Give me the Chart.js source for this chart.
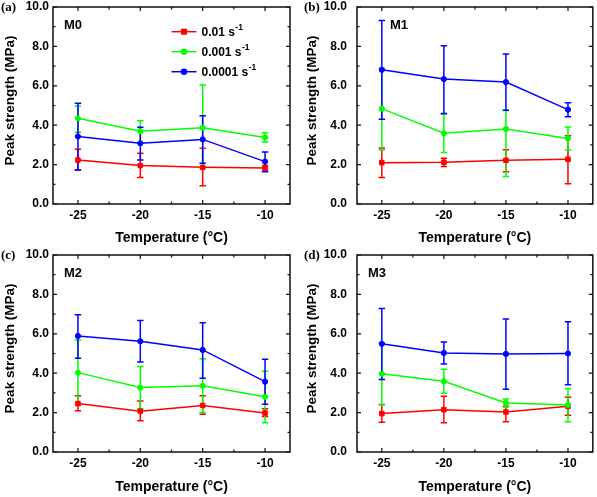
<!DOCTYPE html>
<html><head><meta charset="utf-8">
<script src="https://cdn.jsdelivr.net/npm/chart.js@4.4.0/dist/chart.umd.min.js"></script>
<style>
html,body{margin:0;padding:0;background:#fff;}
#wrap{position:relative;width:597px;height:497px;overflow:hidden;background:#fff;}
canvas{position:absolute;}
</style></head><body>
<div id="wrap">
<canvas id="ca" width="298" height="248" style="left:0px;top:0px"></canvas>
<canvas id="cb" width="299" height="248" style="left:298px;top:0px"></canvas>
<canvas id="cc" width="298" height="249" style="left:0px;top:248px"></canvas>
<canvas id="cd" width="299" height="249" style="left:298px;top:248px"></canvas>
</div>
<script>
// ---------- data ----------
const temperatures = [-25, -20, -15, -10];
const xTickValues = [-25, -20, -15, -10];
const yTickValues = [0, 2, 4, 6, 8, 10];
const seriesNames = ['0.01 s', '0.001 s', '0.0001 s'];
const seriesSup = '-1';
const panelLabels = ['(a)', '(b)', '(c)', '(d)'];
const mixLabels = ['M0', 'M1', 'M2', 'M3'];
const xTitle = 'Temperature (°C)';
const yTitle = 'Peak strength (MPa)';

// M0
const m0_red = [2.23, 1.95, 1.86, 1.83];
const m0_red_hi = [2.78, 2.57, 2.83, 1.95];
const m0_red_lo = [1.73, 1.34, 0.93, 1.68];
const m0_green = [4.35, 3.69, 3.87, 3.38];
const m0_green_hi = [4.97, 4.23, 6.04, 3.62];
const m0_green_lo = [3.64, 3.10, 1.81, 3.15];
const m0_blue = [3.43, 3.08, 3.28, 2.15];
const m0_blue_hi = [5.11, 3.89, 4.48, 2.64];
const m0_blue_lo = [1.73, 2.23, 2.07, 1.64];
// M1
const m1_red = [2.10, 2.12, 2.22, 2.27];
const m1_red_hi = [2.84, 2.32, 2.76, 3.47];
const m1_red_lo = [1.34, 1.90, 1.64, 1.03];
const m1_green = [4.84, 3.59, 3.81, 3.33];
const m1_green_hi = [6.90, 4.56, 4.74, 3.91];
const m1_green_lo = [2.74, 2.62, 1.39, 2.74];
const m1_blue = [6.81, 6.34, 6.19, 4.79];
const m1_blue_hi = [9.32, 8.03, 7.61, 5.14];
const m1_blue_lo = [4.30, 4.60, 4.76, 4.43];
// M2
const m2_red = [2.46, 2.07, 2.36, 1.98];
const m2_red_hi = [2.85, 2.59, 2.85, 2.19];
const m2_red_lo = [2.10, 1.58, 1.92, 1.80];
const m2_green = [4.03, 3.27, 3.36, 2.80];
const m2_green_hi = [5.69, 4.34, 4.73, 4.10];
const m2_green_lo = [2.37, 2.19, 2.00, 1.49];
const m2_blue = [5.89, 5.62, 5.18, 3.57];
const m2_blue_hi = [6.97, 6.67, 6.56, 4.71];
const m2_blue_lo = [4.76, 4.57, 3.74, 2.42];
// M3
const m3_red = [1.95, 2.15, 2.03, 2.32];
const m3_red_hi = [2.41, 2.83, 2.32, 2.78];
const m3_red_lo = [1.51, 1.49, 1.53, 1.86];
const m3_green = [3.97, 3.59, 2.49, 2.39];
const m3_green_hi = [5.54, 4.20, 2.69, 3.22];
const m3_green_lo = [2.40, 2.98, 2.29, 1.53];
const m3_blue = [5.49, 5.03, 4.98, 5.00];
const m3_blue_hi = [7.29, 5.59, 6.75, 6.61];
const m3_blue_lo = [3.68, 4.47, 3.19, 3.41];

// ---------- styles ----------
const COLORS = ['#ff0000', '#00ff00', '#0000ff'];
const SHAPES = ['rect', 'circle', 'circle'];
const SANS = '"Liberation Sans", Arial, Helvetica, sans-serif';
const SERIF = '"Liberation Serif", "Times New Roman", serif';

Chart.defaults.font.family = SANS;
Chart.defaults.font.weight = 'bold';
Chart.defaults.color = '#000';

const panels = [
  { id: 'ca', label: panelLabels[0], mix: mixLabels[0], legend: true,
    series: [[m0_red, m0_red_hi, m0_red_lo], [m0_green, m0_green_hi, m0_green_lo], [m0_blue, m0_blue_hi, m0_blue_lo]],
    yW: 53, yPad: 4, yTitleX: 10, padR: 8, xH: 44, labelX: 1, mixDX: 11 },
  { id: 'cb', label: panelLabels[1], mix: mixLabels[1], legend: false,
    series: [[m1_red, m1_red_hi, m1_red_lo], [m1_green, m1_green_hi, m1_green_lo], [m1_blue, m1_blue_hi, m1_blue_lo]],
    yW: 59, yPad: 10, yTitleX: 14, padR: 3, xH: 44, labelX: 6, mixDX: 33 },
  { id: 'cc', label: panelLabels[2], mix: mixLabels[2], legend: false,
    series: [[m2_red, m2_red_hi, m2_red_lo], [m2_green, m2_green_hi, m2_green_lo], [m2_blue, m2_blue_hi, m2_blue_lo]],
    yW: 53, yPad: 4, yTitleX: 10, padR: 8, xH: 45, labelX: 1, mixDX: 11 },
  { id: 'cd', label: panelLabels[3], mix: mixLabels[3], legend: false,
    series: [[m3_red, m3_red_hi, m3_red_lo], [m3_green, m3_green_hi, m3_green_lo], [m3_blue, m3_blue_hi, m3_blue_lo]],
    yW: 59, yPad: 10, yTitleX: 14, padR: 3, xH: 45, labelX: 6, mixDX: 11 }
];

function mids(arr) {
  const out = [];
  for (let i = 0; i < arr.length - 1; i++) out.push((arr[i] + arr[i + 1]) / 2);
  return out;
}

function drawMarker(ctx, shape, x, y, color) {
  ctx.fillStyle = color;
  if (shape === 'rect') {
    ctx.fillRect(x - 3, y - 3, 6, 6);
  } else {
    ctx.beginPath(); ctx.arc(x, y, 3.2, 0, Math.PI * 2); ctx.fill();
  }
}

function makeChart(p) {
  const datasets = p.series.map((s, i) => ({
    label: seriesNames[i] + ' ' + seriesSup,
    data: temperatures.map((t, k) => ({ x: t, y: s[0][k] })),
    borderColor: COLORS[i],
    backgroundColor: COLORS[i],
    borderWidth: 1.5,
    pointStyle: SHAPES[i],
    pointRadius: i === 0 ? 3.2 : 2.6,
    pointBorderWidth: 1,
    pointHoverRadius: 3,
    tension: 0,
    order: 3 - i
  }));

  const errPlugin = {
    id: 'errbars',
    beforeDatasetsDraw(chart) {
      const ctx = chart.ctx, xs = chart.scales.x, ys = chart.scales.y;
      ctx.save();
      ctx.lineWidth = 1.5;
      p.series.forEach((s, i) => {
        ctx.strokeStyle = COLORS[i];
        temperatures.forEach((t, k) => {
          const x = xs.getPixelForValue(t);
          const yh = ys.getPixelForValue(s[1][k]);
          const yl = ys.getPixelForValue(s[2][k]);
          ctx.beginPath();
          ctx.moveTo(x, yh); ctx.lineTo(x, yl);
          ctx.moveTo(x - 3.2, yh); ctx.lineTo(x + 3.2, yh);
          ctx.moveTo(x - 3.2, yl); ctx.lineTo(x + 3.2, yl);
          ctx.stroke();
        });
      });
      ctx.restore();
    }
  };

  const framePlugin = {
    id: 'frame',
    afterDraw(chart) {
      const ctx = chart.ctx, a = chart.chartArea, xs = chart.scales.x, ys = chart.scales.y;
      ctx.save();
      ctx.strokeStyle = '#111';
      ctx.lineWidth = 1.5;
      ctx.strokeRect(a.left, a.top, a.right - a.left, a.bottom - a.top);
      ctx.lineWidth = 1.2;
      ctx.beginPath();
      const tickX = (v, len) => {
        const x = xs.getPixelForValue(v);
        ctx.moveTo(x, a.bottom); ctx.lineTo(x, a.bottom - len);
        ctx.moveTo(x, a.top); ctx.lineTo(x, a.top + len);
      };
      const tickY = (v, len) => {
        const y = ys.getPixelForValue(v);
        ctx.moveTo(a.left, y); ctx.lineTo(a.left + len, y);
        ctx.moveTo(a.right, y); ctx.lineTo(a.right - len, y);
      };
      xTickValues.forEach(v => tickX(v, 4));
      mids(xTickValues).forEach(v => tickX(v, 2.5));
      yTickValues.forEach(v => tickY(v, 4));
      mids(yTickValues).forEach(v => tickY(v, 2.5));
      ctx.stroke();

      // panel label
      ctx.fillStyle = '#000';
      ctx.textBaseline = 'middle';
      ctx.textAlign = 'left';
      ctx.font = 'bold 13px ' + SERIF;
      ctx.fillText(p.label, p.labelX, 8);
      // mix label
      ctx.font = 'bold 13px ' + SANS;
      ctx.fillText(p.mix, a.left + p.mixDX, a.top + 18);
      // y title
      ctx.save();
      ctx.translate(p.yTitleX, (a.top + a.bottom) / 2 - 5);
      ctx.rotate(-Math.PI / 2);
      ctx.textAlign = 'center';
      ctx.textBaseline = 'middle';
      ctx.font = 'bold 13.5px ' + SANS;
      ctx.fillText(yTitle, 0, 0);
      ctx.restore();

      // legend
      if (p.legend) {
        for (let i = 0; i < 3; i++) {
          const y = a.top + 24.7 + i * 20;
          const x0 = a.left + 118.5, x1 = a.left + 143.5;
          ctx.strokeStyle = COLORS[i];
          ctx.lineWidth = 1.5;
          ctx.beginPath(); ctx.moveTo(x0, y); ctx.lineTo(x1, y); ctx.stroke();
          drawMarker(ctx, SHAPES[i], (x0 + x1) / 2, y, COLORS[i]);
          ctx.fillStyle = '#000';
          ctx.textBaseline = 'middle';
          ctx.textAlign = 'left';
          ctx.font = 'bold 12px ' + SANS;
          const tx = a.left + 148.5;
          ctx.fillText(seriesNames[i], tx, y + 1);
          const w = ctx.measureText(seriesNames[i]).width;
          ctx.font = 'bold 8.5px ' + SANS;
          ctx.fillText(seriesSup, tx + w + 0.5, y - 4);
        }
      }
      ctx.restore();
    }
  };

  return new Chart(document.getElementById(p.id), {
    type: 'line',
    data: { datasets },
    options: {
      responsive: false,
      animation: false,
      devicePixelRatio: 1,
      layout: { padding: { left: 0, top: 7, right: p.padR, bottom: 0 } },
      plugins: { legend: { display: false }, tooltip: { enabled: false }, title: { display: false } },
      scales: {
        x: {
          type: 'linear',
          min: -27, max: -8,
          afterBuildTicks: s => { s.ticks = xTickValues.map(v => ({ value: v })); },
          afterFit: s => { s.height = p.xH; s.paddingLeft = 0; s.paddingRight = 0; },
          ticks: { padding: 4, font: { size: 12, weight: 'bold' }, color: '#000', maxRotation: 0, autoSkip: false,
                   callback: v => String(v) },
          grid: { display: false, drawTicks: false },
          border: { display: false },
          title: { display: true, text: xTitle, font: { size: 14, weight: 'bold' }, color: '#000', padding: { top: 0, bottom: 1 } }
        },
        y: {
          type: 'linear',
          min: 0, max: 10,
          afterBuildTicks: s => { s.ticks = yTickValues.map(v => ({ value: v })); },
          afterFit: s => { s.width = p.yW; s.paddingTop = 0; s.paddingBottom = 0; },
          ticks: { padding: p.yPad, font: { size: 12, weight: 'bold' }, color: '#000', autoSkip: false,
                   callback: v => Number(v).toFixed(1) },
          grid: { display: false, drawTicks: false },
          border: { display: false },
          title: { display: false }
        }
      }
    },
    plugins: [errPlugin, framePlugin]
  });
}

panels.forEach(makeChart);
</script>
</body></html>
